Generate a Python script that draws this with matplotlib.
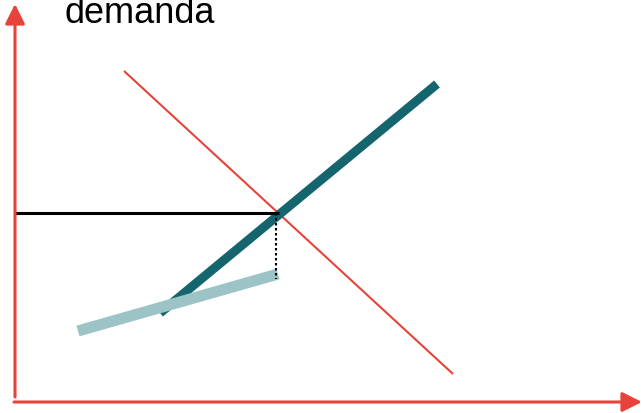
import matplotlib.pyplot as plt

# coordinates: origin at the corner of the two axes, units ~ pixels
demand_x = [109, 438]
demand_y = [332, 29]

supply_x = [145, 422]
supply_y = [90, 319]

old_supply_x = [63, 263]
old_supply_y = [72, 129]

price_x = [0, 264]
price_y = [190, 190]

qty_x = [261, 261]
qty_y = [190, 124]

label_text = "demanda"

red = "#e8433a"

fig = plt.figure(figsize=(6.42, 4.14), dpi=100)
ax = fig.add_axes([0, 0, 1, 1])
ax.set_xlim(-15, 627)
ax.set_ylim(-10, 404)
ax.axis("off")

# axes with arrows
ax.annotate("", xy=(0, 399), xytext=(0, 6),
            arrowprops=dict(arrowstyle="-|>,head_length=0.6,head_width=0.3",
                            lw=2.2, color=red, shrinkA=0, shrinkB=0,
                            mutation_scale=20))
ax.annotate("", xy=(627, 1), xytext=(-1, 1),
            arrowprops=dict(arrowstyle="-|>,head_length=0.6,head_width=0.3",
                            lw=2.2, color=red, shrinkA=0, shrinkB=0,
                            mutation_scale=20))

ax.plot(demand_x, demand_y, color=red, lw=1.5, solid_capstyle="butt")
ax.plot(supply_x, supply_y, color="#15656f", lw=6.5, solid_capstyle="butt")
ax.plot(old_supply_x, old_supply_y, color="#9cc3c6", lw=8, solid_capstyle="butt")
ax.plot(price_x, price_y, color="black", lw=2.2, solid_capstyle="butt")
ax.plot(qty_x, qty_y, color="black", lw=1.5, linestyle=(0, (1.2, 1.2)))

ax.text(50, 381, label_text, fontsize=26, family="Liberation Sans",
        va="baseline", ha="left")

fig.savefig("out.png", dpi=100)
